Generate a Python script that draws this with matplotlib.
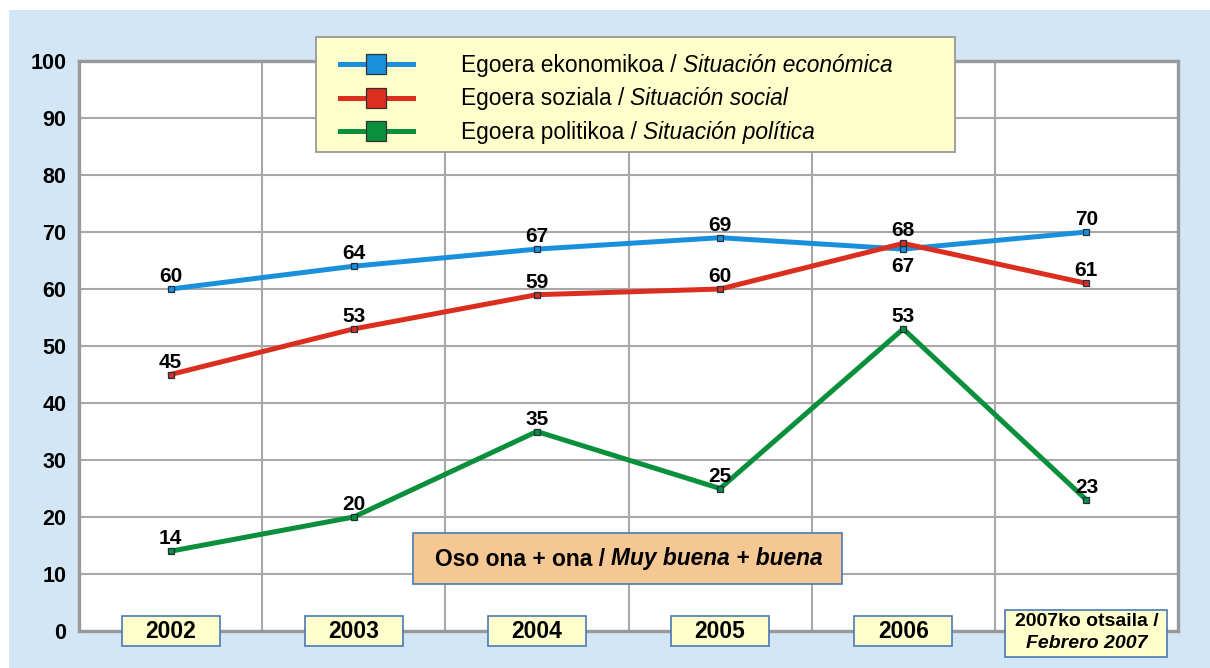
import matplotlib
matplotlib.use("Agg")
import matplotlib.pyplot as plt
from matplotlib.lines import Line2D
from matplotlib.patches import Rectangle
from matplotlib.transforms import ScaledTranslation

plt.rcParams['font.family'] = ['Liberation Sans', 'DejaVu Sans']

# данные
years = ['2002', '2003', '2004', '2005', '2006', '2007ko otsaila /']
last_sub = 'Febrero 2007'
economica = [60, 64, 67, 69, 67, 70]
social = [45, 53, 59, 60, 68, 61]
politica = [14, 20, 35, 25, 53, 23]

names_eu = ['Egoera ekonomikoa /', 'Egoera soziala /', 'Egoera politikoa /']
names_es = ['Situación económica', 'Situación social', 'Situación política']
colors = ['#1a90dc', '#dc2e1e', '#0a8f3c']
series = [economica, social, politica]

W, H = 1210, 668


def fx(px):
    return px / W


def fy(py):
    return 1 - py / H


fig = plt.figure(figsize=(W / 100, H / 100), dpi=100)
fig.patch.set_facecolor('white')
fig.add_artist(Rectangle((fx(9), 0), 1, fy(10), transform=fig.transFigure,
                         fc='#d2e6f5', ec='none', zorder=-1))

ax = fig.add_axes([fx(79), fy(631), fx(1178) - fx(79), fy(61) - fy(631)])
ax.set_facecolor('white')
x = list(range(len(years)))

for vals, c in zip(series, colors):
    ax.plot(x, vals, color=c, lw=3.6, marker='s', ms=5, mfc=c, mec='#203040',
            mew=0.9, zorder=4, solid_joinstyle='miter')

# подписи значений
for k, (vals, c) in enumerate(zip(series, colors)):
    for i, v in enumerate(vals):
        below = (k == 0 and i == 4)
        ax.annotate(str(v), (i, v), xytext=(0, -6 if below else 5),
                    textcoords='offset points', ha='center',
                    va='top' if below else 'baseline',
                    fontsize=15, fontweight='bold', zorder=6)

ax.set_xlim(-0.5, len(years) - 0.5)
ax.set_ylim(0, 100)
ax.set_yticks(range(0, 101, 10))
ax.set_xticks([])
ax.set_xticks([i + 0.5 for i in range(len(years) - 1)], minor=True)
ax.grid(True, which='major', axis='y', color='#a8a8a8', lw=1.5, zorder=1)
ax.grid(True, which='minor', axis='x', color='#a8a8a8', lw=1.5, zorder=1)
ax.set_axisbelow(True)
ax.tick_params(axis='y', length=0, pad=9, labelsize=15.5)
ax.tick_params(axis='x', which='both', length=0)
for lab in ax.get_yticklabels():
    lab.set_fontweight('bold')
for s in ax.spines.values():
    s.set_color('#999999')
    s.set_linewidth(2.4)

# рамки с годами
for i, yr in enumerate(years):
    last = (i == len(years) - 1)
    tr = fig.dpi_scale_trans + ScaledTranslation(i, 0, ax.transData)
    bw, bh = (1.62, 0.47) if last else (0.98, 0.30)
    cy = -0.025 if last else 0.0
    ax.add_patch(Rectangle((-bw / 2, cy - bh / 2), bw, bh, transform=tr,
                           fc='#ffffcc', ec='#4a78b8', lw=1.2,
                           clip_on=False, zorder=20))
    if last:
        ax.annotate(yr, (i, 0), xytext=(0, 7), textcoords='offset points',
                    ha='center', va='center', fontsize=14,
                    fontweight='bold', zorder=21, annotation_clip=False)
        ax.annotate(last_sub, (i, 0), xytext=(0, -9),
                    textcoords='offset points', ha='center', va='center',
                    fontsize=14, fontweight='bold', fontstyle='italic',
                    zorder=21, annotation_clip=False)
    else:
        ax.annotate(yr, (i, 0), xytext=(0, -0.5), textcoords='offset points',
                    ha='center', va='center', fontsize=16.5,
                    fontweight='bold', zorder=21, annotation_clip=False)

# легенда
ax.add_patch(Rectangle((fx(316), fy(152)), fx(955) - fx(316), fy(37) - fy(152),
                       transform=fig.transFigure, fc='#ffffcc', ec='#999999',
                       lw=1.3, clip_on=False, zorder=10))
handles = [Line2D([], [], color=c, lw=3.6, marker='s', ms=14, mfc=c,
                  mec='#303030', mew=0.9) for c in colors]
leg = ax.legend(handles, names_eu, loc='upper left',
                bbox_to_anchor=(fx(340), fy(54)), bbox_transform=fig.transFigure,
                frameon=False, fontsize=16.4, handlelength=3.2,
                handletextpad=2.1, labelspacing=0.46, borderpad=0,
                borderaxespad=0)
leg.set_zorder(11)
for t, es in zip(leg.get_texts(), names_es):
    ax.annotate(es, xy=(1, 0), xycoords=t, xytext=(4.5, 0),
                textcoords='offset points', ha='left', va='bottom',
                fontsize=16.4, fontstyle='italic', zorder=12,
                annotation_clip=False)

# оранжевая плашка
ax.add_patch(Rectangle((fx(413), fy(584)), fx(842) - fx(413), fy(533) - fy(584),
                       transform=fig.transFigure, fc='#f5c893', ec='#4a78b8',
                       lw=1.2, clip_on=False, zorder=10))
t1 = ax.text(fx(435), fy(559), 'Oso ona + ona /', transform=fig.transFigure,
             ha='left', va='center', fontsize=16.4, fontweight='bold', zorder=11)
ax.annotate('Muy buena + buena', xy=(1, 0), xycoords=t1, xytext=(4.5, 0),
            textcoords='offset points', ha='left', va='bottom', fontsize=16.4,
            fontweight='bold', fontstyle='italic', zorder=11,
            annotation_clip=False)

plt.savefig('out.png', dpi=100)
